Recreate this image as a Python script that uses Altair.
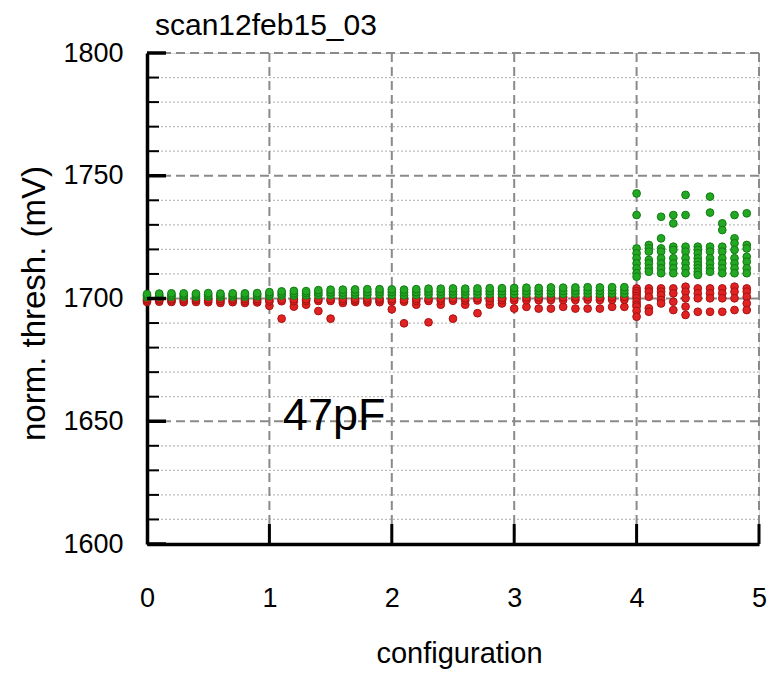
import altair as alt
import pandas as pd

# ---- data ----
config_x = [0.0, 0.1, 0.2, 0.3, 0.4, 0.5, 0.6, 0.7, 0.8, 0.9,
            1.0, 1.1, 1.2, 1.3, 1.4, 1.5, 1.6, 1.7, 1.8, 1.9,
            2.0, 2.1, 2.2, 2.3, 2.4, 2.5, 2.6, 2.7, 2.8, 2.9,
            3.0, 3.1, 3.2, 3.3, 3.4, 3.5, 3.6, 3.7, 3.8, 3.9,
            4.0, 4.1, 4.2, 4.3, 4.4, 4.5, 4.6, 4.7, 4.8, 4.9]

green_vals = [
    [1700.6, 1701.2, 1701.8], [1700.8, 1701.4, 1702.0], [1700.7, 1701.3, 1702.1],
    [1700.8, 1701.5, 1702.1], [1700.7, 1701.4, 1702.0], [1700.8, 1701.5, 1702.2],
    [1700.7, 1701.3, 1702.0], [1700.8, 1701.5, 1702.1], [1700.7, 1701.4, 1702.1],
    [1700.9, 1701.6, 1702.2],
    [1701.0, 1701.8, 1702.6], [1701.2, 1702.0, 1702.9], [1701.2, 1702.1, 1703.1],
    [1701.3, 1702.2, 1703.0], [1701.4, 1702.4, 1703.4], [1701.4, 1702.5, 1703.6],
    [1701.4, 1702.4, 1703.6], [1701.5, 1702.5, 1703.7], [1701.5, 1702.6, 1703.8],
    [1701.6, 1702.7, 1703.8],
    [1701.4, 1702.6, 1703.7], [1701.3, 1702.5, 1703.6], [1701.5, 1702.6, 1703.8],
    [1701.6, 1702.8, 1704.0], [1701.6, 1702.8, 1704.0], [1701.7, 1702.9, 1704.1],
    [1701.6, 1702.9, 1704.0], [1701.7, 1702.9, 1704.1], [1701.8, 1703.0, 1704.2],
    [1701.8, 1703.0, 1704.2],
    [1701.8, 1703.0, 1704.3], [1701.9, 1703.1, 1704.4], [1701.9, 1703.1, 1704.3],
    [1702.0, 1703.2, 1704.5], [1701.9, 1703.1, 1704.4], [1702.0, 1703.2, 1704.5],
    [1702.0, 1703.3, 1704.6], [1701.9, 1703.2, 1704.5], [1702.0, 1703.3, 1704.6],
    [1702.0, 1703.3, 1704.6],
    [1742.8, 1734.0, 1720.4, 1718.4, 1716.4, 1714.3, 1712.3, 1710.3, 1708.9],
    [1721.8, 1720.4, 1719.1, 1715.7, 1714.3, 1712.3, 1710.9],
    [1733.3, 1724.5, 1720.4, 1719.1, 1716.4, 1714.3, 1712.3, 1710.3],
    [1734.0, 1730.6, 1721.1, 1719.8, 1716.4, 1714.3, 1712.3, 1710.3],
    [1742.2, 1734.0, 1721.1, 1719.1, 1716.4, 1714.3, 1712.3, 1710.3],
    [1721.1, 1719.8, 1718.4, 1716.4, 1715.0, 1713.6, 1712.3, 1710.9, 1709.6],
    [1741.5, 1735.0, 1721.1, 1719.1, 1716.4, 1714.3, 1712.3, 1710.9],
    [1730.6, 1727.9, 1721.1, 1719.1, 1716.4, 1714.3, 1712.3, 1710.3],
    [1734.0, 1724.5, 1722.5, 1719.8, 1716.4, 1714.3, 1712.3, 1710.3],
    [1734.7, 1721.8, 1720.4, 1717.0, 1715.0, 1712.3, 1710.3],
]

red_vals = [
    [1698.6, 1699.2, 1699.8], [1698.7, 1699.3, 1699.9], [1698.6, 1699.2, 1699.8],
    [1698.5, 1699.2, 1699.9], [1698.6, 1699.3, 1699.9], [1698.5, 1699.2, 1699.8],
    [1698.2, 1699.0, 1699.8], [1698.5, 1699.2, 1699.9], [1698.2, 1699.0, 1699.8],
    [1698.4, 1699.1, 1699.8],
    [1697.0, 1698.8, 1699.6], [1691.8, 1698.9, 1699.6], [1696.7, 1698.9, 1699.7],
    [1697.5, 1699.0, 1699.7], [1694.9, 1699.0, 1699.8], [1691.8, 1699.0, 1699.8],
    [1698.2, 1699.1, 1699.9], [1698.6, 1699.2, 1699.9], [1698.4, 1699.2, 1700.0],
    [1698.5, 1699.3, 1700.0],
    [1695.6, 1698.8, 1699.7], [1689.9, 1698.7, 1699.6], [1697.5, 1699.0, 1699.8],
    [1690.3, 1699.0, 1699.9], [1697.5, 1699.1, 1700.0], [1691.8, 1699.1, 1700.0],
    [1697.5, 1699.2, 1700.1], [1694.0, 1699.2, 1700.1], [1697.5, 1699.0, 1700.2],
    [1698.0, 1699.3, 1700.2],
    [1695.9, 1699.2, 1700.3], [1696.6, 1699.3, 1700.4], [1695.9, 1699.3, 1700.4],
    [1695.9, 1699.4, 1700.5], [1696.6, 1699.4, 1700.5], [1695.9, 1699.4, 1700.5],
    [1695.9, 1699.5, 1700.6], [1695.9, 1699.4, 1700.5], [1696.6, 1699.5, 1700.6],
    [1696.6, 1699.5, 1700.6],
    [1704.1, 1703.0, 1702.1, 1701.0, 1700.1, 1698.7, 1697.5, 1696.7, 1695.0, 1692.6],
    [1704.1, 1702.8, 1700.7, 1696.0, 1694.6],
    [1704.1, 1702.8, 1701.4, 1699.4, 1698.0],
    [1704.1, 1702.1, 1698.7, 1695.3],
    [1704.8, 1702.8, 1700.1, 1696.7, 1693.3],
    [1704.1, 1702.1, 1700.1, 1694.6],
    [1704.1, 1702.1, 1700.1, 1694.6],
    [1704.1, 1702.1, 1700.1, 1694.6],
    [1704.8, 1702.8, 1700.1, 1695.3],
    [1704.1, 1702.8, 1700.7, 1698.0, 1695.3],
]

y_major = [1600, 1650, 1700, 1750, 1800]
y_minor = [1610, 1620, 1630, 1640, 1660, 1670, 1680, 1690, 1710, 1720,
           1730, 1740, 1760, 1770, 1780, 1790]
y_grid = [1650, 1700, 1750, 1800]
x_major = [0, 1, 2, 3, 4, 5]
x_grid = [1, 2, 3, 4, 5]

title_text = "scan12feb15_03"
x_title = "configuration"
y_title = "norm. thresh. (mV)"
note_text = ["47pF"]
note_x = [1.11]
note_y = [1646.4]

# ---- tables ----
rows = []
for i, xv in enumerate(config_x):
    for v in red_vals[i]:
        rows.append({"config": xv, "thresh": v, "series": "red"})
for i, xv in enumerate(config_x):
    for v in green_vals[i]:
        rows.append({"config": xv, "thresh": v, "series": "green"})
pts = pd.DataFrame(rows)

W, H = 612, 491
FONT = "Liberation Sans"


def xs():
    return alt.Scale(domain=[0, 5], nice=False, zero=False)


def ys():
    return alt.Scale(domain=[1600, 1800], nice=False, zero=False)


x_axis = alt.Axis(values=x_major, title=x_title, grid=False, format="d",
                  tickSize=0, domainWidth=3.5, domainColor="black",
                  labelFont=FONT, labelFontSize=27, labelColor="black",
                  labelPadding=41, labelFlush=False,
                  titleFont=FONT, titleFontSize=29, titleFontWeight="normal",
                  titleColor="black", titleX=312, titleY=118,
                  titleBaseline="alphabetic", titleAlign="center")
y_axis = alt.Axis(values=y_major, title=y_title, grid=False, format="d",
                  tickSize=0, domainWidth=3.5, domainColor="black",
                  labelFont=FONT, labelFontSize=27, labelColor="black",
                  labelPadding=24, labelFlush=False,
                  titleFont=FONT, titleFontSize=33, titleFontWeight="normal",
                  titleColor="black", titleX=-113, titleY=250,
                  titleBaseline="middle", titleAlign="center", titleAngle=-90)

minor_df = pd.DataFrame({"v": y_minor})
major_df = pd.DataFrame({"v": y_major})
ygrid_df = pd.DataFrame({"v": y_grid})
xg_df = pd.DataFrame({"v": x_grid})

minor_grid = alt.Chart(minor_df).mark_rule(
    color="#bdbdbd", strokeWidth=1.3, strokeDash=[2, 2]
).encode(y=alt.Y("v:Q", scale=ys(), axis=None))

major_grid = alt.Chart(ygrid_df).mark_rule(
    color="#8a8a8a", strokeWidth=2, strokeDash=[9, 5]
).encode(y=alt.Y("v:Q", scale=ys(), axis=None))

x_gridlines = alt.Chart(xg_df).mark_rule(
    color="#8a8a8a", strokeWidth=2, strokeDash=[9, 5]
).encode(x=alt.X("v:Q", scale=xs(), axis=None))

points = alt.Chart(pts).mark_circle(size=60, opacity=1, strokeWidth=1).encode(
    x=alt.X("config:Q", scale=xs(), axis=x_axis),
    y=alt.Y("thresh:Q", scale=ys(), axis=y_axis),
    color=alt.Color("series:N", scale=alt.Scale(domain=["red", "green"],
                                                 range=["#e02222", "#22a822"]), legend=None),
    stroke=alt.Stroke("series:N", scale=alt.Scale(domain=["red", "green"],
                                                   range=["#a81212", "#147a14"]), legend=None),
    order=alt.Order("series:N", sort="descending"),
)

note = alt.Chart(pd.DataFrame({"t": note_text, "x": note_x, "y": note_y})).mark_text(
    font=FONT, fontSize=45, align="left", baseline="alphabetic", color="black"
).encode(x=alt.X("x:Q", scale=xs(), axis=None), y=alt.Y("y:Q", scale=ys(), axis=None),
         text="t:N")

ytick_major = alt.Chart(major_df).mark_rule(color="black", strokeWidth=3.5).encode(
    y=alt.Y("v:Q", scale=ys(), axis=None), x=alt.value(0), x2=alt.value(19))
ytick_minor = alt.Chart(minor_df).mark_rule(color="black", strokeWidth=2).encode(
    y=alt.Y("v:Q", scale=ys(), axis=None), x=alt.value(0), x2=alt.value(12))
xtick = alt.Chart(xg_df).mark_rule(color="black", strokeWidth=3).encode(
    x=alt.X("v:Q", scale=xs(), axis=None), y=alt.value(H), y2=alt.value(H - 20))

chart = alt.layer(
    minor_grid, major_grid, x_gridlines, points, note, ytick_minor, ytick_major, xtick
).resolve_scale(
    x="independent", y="independent"
).properties(
    width=W, height=H,
    title=alt.Title(title_text, anchor="start", frame="group", fontSize=30, font=FONT,
                    fontWeight="normal", color="black", dx=8, offset=-26,
                    baseline="alphabetic"),
    autosize=alt.AutoSizeParams(type="none"),
    padding={"left": 147, "top": 53, "right": 15, "bottom": 130},
).configure_view(stroke=None).configure(background="white")

chart.save("out.html", embed_options={"renderer": "svg", "actions": False})
